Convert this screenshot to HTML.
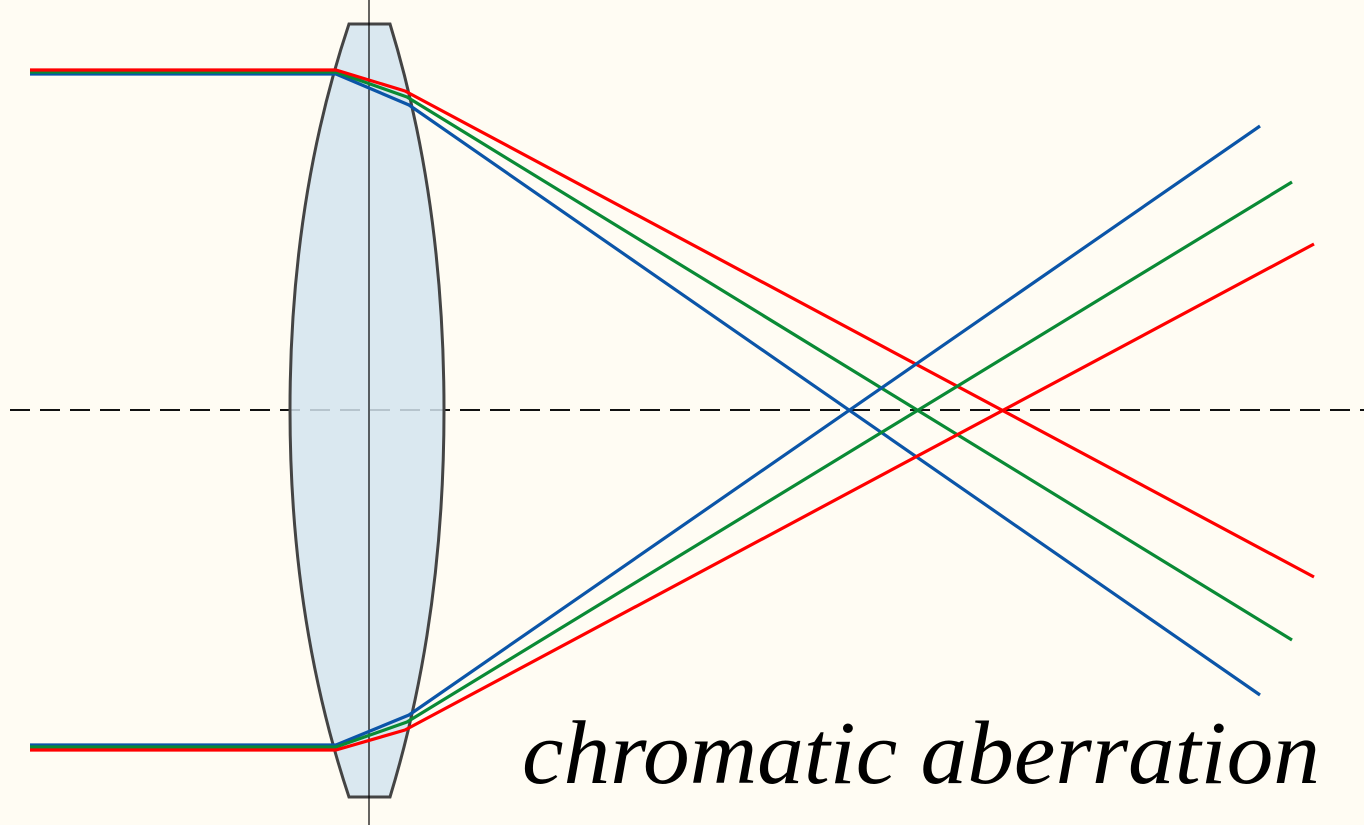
<!DOCTYPE html>
<html><head><meta charset="utf-8"><style>
html,body{margin:0;padding:0;background:#fffcf3;}
svg{display:block}
</style></head><body>
<svg width="1364" height="825" viewBox="0 0 1364 825" xmlns="http://www.w3.org/2000/svg">
<rect width="1364" height="825" fill="#fffcf3"/>
<line x1="10" y1="410" x2="1364" y2="410" stroke="#111" stroke-width="2" stroke-dasharray="20,10"/>
<path d="M349,24 L390,24 Q444,200 444,410 Q444,620 390,797 L349,797 Q290,620 290,410 Q290,200 349,24 Z" fill="#d4e4ef" fill-opacity="0.85" stroke="#444" stroke-width="3"/>
<line x1="369" y1="0" x2="369" y2="825" stroke="#000" stroke-width="1.2"/>
<g fill="none" stroke-width="3.2" stroke-linejoin="round">
<polyline points="30,74 336,74 409,105 1260,695" stroke="#0b55a8"/>
<polyline points="30,72 336,72 407,97 1292,640" stroke="#0a8a35"/>
<polyline points="30,70 336,70 405,91 1314,577" stroke="#ff0000"/>
<polyline points="30,745 336,745 409,715 1260,126" stroke="#0b55a8"/>
<polyline points="30,747 336,747 407,722 1292,182" stroke="#0a8a35"/>
<polyline points="30,750 336,750 405,730 1314,244" stroke="#ff0000"/>
</g>
<text x="522" y="783" font-family="'Liberation Serif',serif" font-style="italic" font-size="90" fill="#000" textLength="798" lengthAdjust="spacingAndGlyphs">chromatic aberration</text>
</svg>
</body></html>
